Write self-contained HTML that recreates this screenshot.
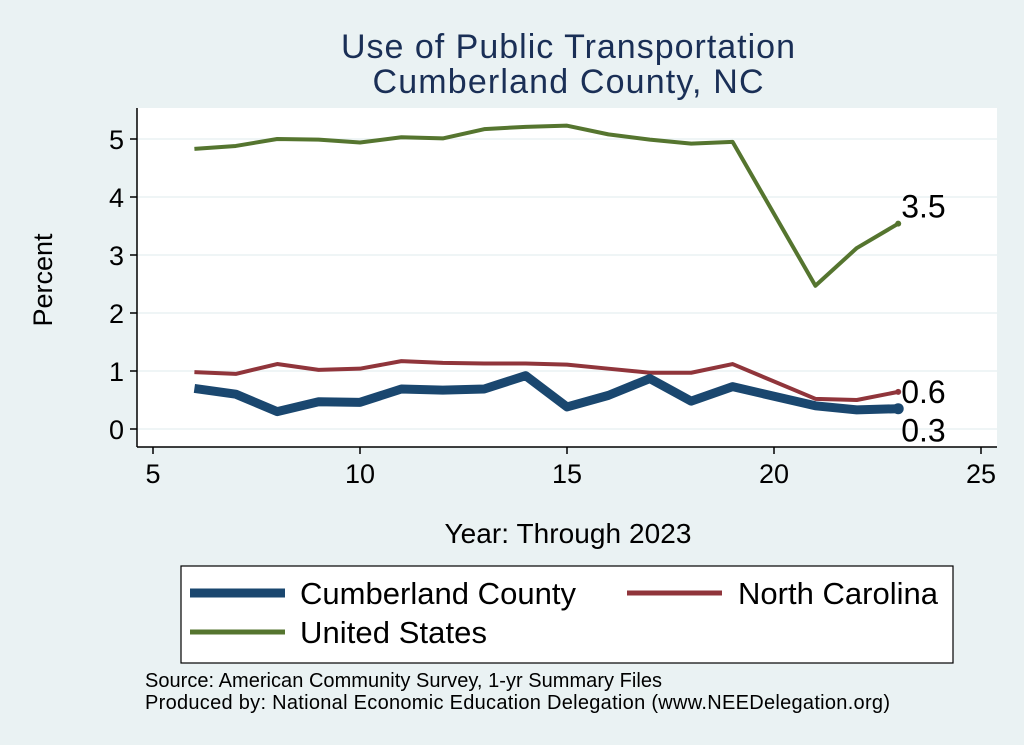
<!DOCTYPE html>
<html><head><meta charset="utf-8"><style>
body{margin:0;background:#eaf2f3;}
svg{display:block;font-family:"Liberation Sans",sans-serif;}
</style></head><body>
<svg id="c" width="1024" height="745">
<rect x="0" y="0" width="1024" height="745" fill="#eaf2f3"/>
<text x="568" y="58" font-size="34" fill="#1a2f56" text-anchor="middle" textLength="454">Use of Public Transportation</text>
<text x="568" y="93" font-size="34" fill="#1a2f56" text-anchor="middle" textLength="391">Cumberland County, NC</text>
<rect x="137" y="108" width="860" height="339" fill="#fff"/>
<g id="grid"></g>
<line x1="137" y1="447" x2="997" y2="447" stroke="#000" stroke-width="1.5"/>
<line x1="137" y1="108" x2="137" y2="447" stroke="#000" stroke-width="1.5"/>
<g id="ticks"></g>
<g id="series"></g>
<text x="52" y="280" font-size="27" text-anchor="middle" transform="rotate(-90 52 280)">Percent</text>
<text x="568" y="543" font-size="28" text-anchor="middle" textLength="247">Year: Through 2023</text>
<g>
<rect x="181" y="566" width="772" height="97" fill="#fff" stroke="#000" stroke-width="1.2"/>
<line x1="190" y1="593" x2="285" y2="593" stroke="#1a476f" stroke-width="9"/>
<text x="300" y="604" font-size="31" textLength="276">Cumberland County</text>
<line x1="627" y1="593" x2="722" y2="593" stroke="#90353b" stroke-width="5"/>
<text x="738" y="604" font-size="31" textLength="200">North Carolina</text>
<line x1="190" y1="632" x2="285" y2="632" stroke="#55752f" stroke-width="5"/>
<text x="300" y="643" font-size="31" textLength="187">United States</text>
</g>
<text x="145" y="687" font-size="20" textLength="517">Source: American Community Survey, 1-yr Summary Files</text>
<text x="145" y="709" font-size="20" textLength="745">Produced by: National Economic Education Delegation (www.NEEDelegation.org)</text>
</svg>
<script>
const years=[6,7,8,9,10,11,12,13,14,15,16,17,18,19,21,22,23];
const usVals=[4.83,4.88,5.0,4.99,4.94,5.03,5.01,5.17,5.21,5.23,5.08,4.99,4.92,4.95,2.47,3.12,3.54];
const ncVals=[0.98,0.95,1.12,1.02,1.04,1.17,1.14,1.13,1.13,1.11,1.04,0.97,0.97,1.12,0.52,0.5,0.64];
const ccVals=[0.7,0.6,0.3,0.47,0.46,0.69,0.67,0.69,0.92,0.38,0.58,0.87,0.48,0.73,0.4,0.33,0.35];
const xTicks=[5,10,15,20,25];
const yTicks=[0,1,2,3,4,5];
const NS="http://www.w3.org/2000/svg";
const X=v=>153+(v-5)*41.4;
const Y=v=>429-v*58;
function mk(t,a,p){const e=document.createElementNS(NS,t);for(const k in a)e.setAttribute(k,a[k]);p.appendChild(e);return e;}
const grid=document.getElementById('grid'),ticks=document.getElementById('ticks'),ser=document.getElementById('series');
yTicks.forEach(v=>{
 const g=mk('line',{x1:137,x2:997,y1:Y(v),y2:Y(v),stroke:'#eaf2f3','stroke-width':1.5},grid);
 
 
 mk('line',{x1:130,x2:137,y1:Y(v),y2:Y(v),stroke:'#000','stroke-width':1.5},ticks);
 const t=mk('text',{x:124,y:Y(v)+10,'font-size':27,'text-anchor':'end'},ticks);t.textContent=v;
 
 
});
xTicks.forEach(v=>{
 mk('line',{x1:X(v),x2:X(v),y1:447,y2:454,stroke:'#000','stroke-width':1.5},ticks);
 const t=mk('text',{x:X(v),y:483,'font-size':27,'text-anchor':'middle'},ticks);t.textContent=v;
 
 
});
function line(vals,color,w,name){
 const p=mk('polyline',{points:years.map((y,i)=>X(y)+','+Y(vals[i])).join(' '),fill:'none',stroke:color,'stroke-width':w,'stroke-linejoin':'round'},ser);
 
 
 const last=vals.length-1;
 mk('circle',{cx:X(years[last]),cy:Y(vals[last]),r:w/2+1,fill:color},ser);
}
line(usVals,'#55752f',4,'line-united-states');
line(ncVals,'#90353b',4,'line-north-carolina');
line(ccVals,'#1a476f',9,'line-cumberland-county');
const last=years.length-1;
[[usVals[last],-6,'label-us-last'],[ncVals[last],11,'label-nc-last'],[ccVals[last],33,'label-cc-last']].forEach(([v,dy,n])=>{
 const t=mk('text',{x:X(years[last])+3,y:Y(v)+dy,'font-size':32},ser);t.textContent=v.toFixed(1);
 
 
});
</script>
</body></html>
